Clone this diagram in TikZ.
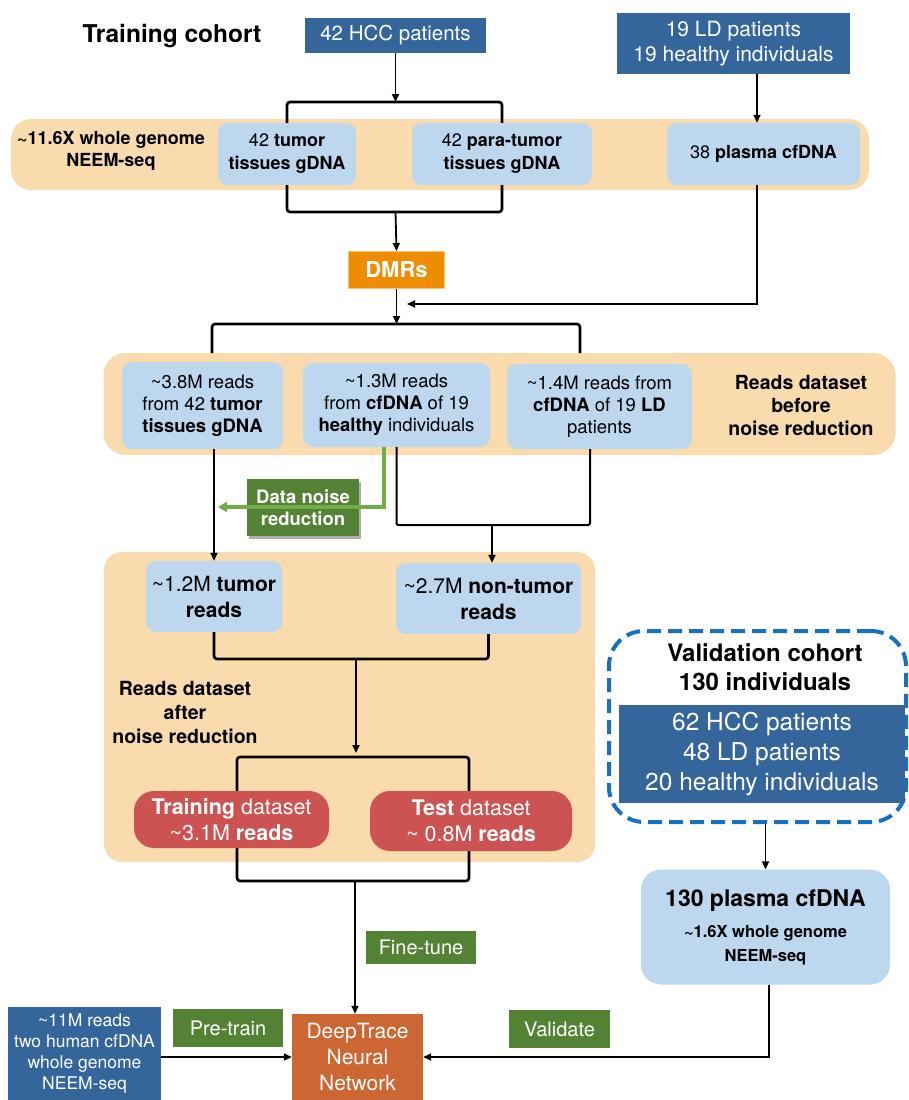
\documentclass[tikz,border=0pt]{standalone}
\usepackage{fontspec}
\setmainfont{TeX Gyre Heros}
\usetikzlibrary{arrows.meta,shadows}
\definecolor{dblue}{RGB}{52,101,155}
\definecolor{lblue}{RGB}{189,215,238}
\definecolor{tanc}{RGB}{249,219,174}
\definecolor{dmrc}{RGB}{240,140,0}
\definecolor{dmrb}{RGB}{248,196,110}
\definecolor{dgreen}{RGB}{84,130,53}
\definecolor{lgreen}{RGB}{112,173,71}
\definecolor{redc}{RGB}{205,82,82}
\definecolor{dtc}{RGB}{204,102,51}
\definecolor{dashb}{RGB}{24,113,192}
\newcommand\fsz[2]{\fontsize{#1}{#2}\selectfont}
\newcommand\tld{\textasciitilde}
\begin{document}
\begin{tikzpicture}[x=1pt,y=-1pt,
  bx/.style={inner sep=0pt,align=center},
  db/.style={bx,fill=dblue,text=white},
  lb/.style={bx,fill=lblue,rounded corners=10pt},
  band/.style={fill=tanc,inner sep=0pt},
  gl/.style={bx,fill=dgreen,text=white},
  rb/.style={bx,fill=redc,text=white,rounded corners=20pt},
  arr/.style={line width=1.8pt,-{Triangle[length=8pt,width=7pt]}},
  brk/.style={line width=2.6pt,rounded corners=3pt},
  conn/.style={line width=2pt,rounded corners=2pt}]
\useasboundingbox (0,0) rectangle (909,1100);
% bands
\node[band,rounded corners=20pt,minimum width=858pt,minimum height=71pt] (band1) at (440,154.5) {};
\node[band,rounded corners=22pt,minimum width=792pt,minimum height=102pt] (band2) at (499.5,404) {};
\node[band,rounded corners=18pt,minimum width=491pt,minimum height=310pt] (band3) at (349.5,707) {};
% top
\node[bx,font=\fsz{24.5}{28}\bfseries] (title) at (172,36) {Training cohort};
\node[db,minimum width=181pt,minimum height=35pt,font=\fsz{20.5}{25}] (hcc) at (395.5,35.5) {42 HCC patients};
\node[db,minimum width=233pt,minimum height=61pt,font=\fsz{21}{25}] (ld) at (733.5,43.5) {19 LD patients\\19 healthy individuals};
\node[bx,font=\fsz{18}{22}\bfseries] (seq1) at (111,151) {\tld 11.6X whole genome\\NEEM-seq};
\node[lb,minimum width=138pt,minimum height=62pt,font=\fsz{18}{23}] (tum) at (287,154) {42 \textbf{tumor}\\\textbf{tissues gDNA}};
\node[lb,minimum width=180pt,minimum height=62pt,font=\fsz{18}{23}] (para) at (502,154) {42 \textbf{para-tumor}\\\textbf{tissues gDNA}};
\node[lb,minimum width=193pt,minimum height=62pt,font=\fsz{18}{23}] (plas) at (763.5,154) {38 \textbf{plasma cfDNA}};
\node[bx,fill=dmrc,draw=dmrb,line width=1pt,text=white,minimum width=96pt,minimum height=37pt,font=\fsz{22}{26}\bfseries] (dmr) at (396.5,270) {DMRs};
\coordinate (b1) at (395.5,102);
\coordinate (b2) at (395.5,212);
\draw[arr] (hcc.south) -- (b1);
\draw[brk] (tum.north) |- (b1) -| (para.north);
\draw[brk] (tum.south) |- (b2) -| (para.south);
\draw[arr] (b2) -- (dmr.north);
\draw[arr] ([xshift=23.5pt]ld.south) -- ([xshift=-6.5pt]plas.north);
\coordinate (m1) at (407,304);
\draw[arr] ([xshift=-6.5pt]plas.south) |- (m1);
\coordinate (b3) at (396.5,324);
\draw[arr] (dmr.south) -- (b3);
\coordinate (l3a) at (212,353);
\coordinate (l3b) at (580,353);
\draw[brk] (l3a) |- (b3) -| (l3b);
% band2
\node[lb,minimum width=161pt,minimum height=87pt,font=\fsz{18.5}{22}] (ra) at (202.5,405.5) {\tld 3.8M reads\\from 42 \textbf{tumor}\\\textbf{tissues gDNA}};
\node[lb,minimum width=187pt,minimum height=84pt,font=\fsz{18.5}{22}] (rbx) at (396.5,405) {\tld 1.3M reads\\from \textbf{cfDNA} of 19\\\textbf{healthy} individuals};
\node[lb,minimum width=185pt,minimum height=85pt,font=\fsz{18.5}{22}] (rc) at (599.5,406.5) {\tld 1.4M reads from\\\textbf{cfDNA} of 19 \textbf{LD}\\patients};
\node[bx,font=\fsz{19.5}{23}\bfseries] (tt2) at (801,405) {Reads dataset\\before\\noise reduction};
% band3
\node[lb,minimum width=136pt,minimum height=71pt,font=\fsz{21}{26}] (r12) at (214,596.5) {\tld 1.2M \textbf{tumor}\\\textbf{reads}};
\node[lb,minimum width=185pt,minimum height=71pt,font=\fsz{21}{26}] (r27) at (488.5,598.5) {\tld 2.7M \textbf{non-tumor}\\\textbf{reads}};
\node[bx,font=\fsz{19.5}{24}\bfseries] (tt3) at (185,712) {Reads dataset\\after\\noise reduction};
\node[rb,minimum width=195pt,minimum height=57pt,font=\fsz{21.5}{26}] (trn) at (231.5,819.5) {\textbf{Training} dataset\\\tld 3.1M \textbf{reads}};
\node[rb,minimum width=202pt,minimum height=60pt,font=\fsz{21.5}{26}] (tst) at (471,821) {\textbf{Test} dataset\\\tld\ 0.8M \textbf{reads}};
% noise reduction
\node[gl,minimum width=112pt,minimum height=57pt,font=\fsz{18.5}{22}\bfseries,drop shadow={shadow xshift=2pt,shadow yshift=-3pt,opacity=0.45,fill=black!70}] (dnr) at (303,507.5) {Data noise\\reduction};
\coordinate (g1) at (384,507);
\coordinate (g2) at (218,507);
\draw[lgreen,line width=3.2pt,-{Triangle[length=9pt,width=10pt]}] ([xshift=-12.5pt]rbx.south) -- (g1) -- (g2);
\draw[arr] (ra.south -| r12.north) -- (r12.north);
\coordinate (m2) at (492,525);
\draw[conn] (rbx.south) |- (m2) -| ([xshift=-9.5pt]rc.south);
\draw[arr] (m2) -- (m2 |- r27.north);
\coordinate (b4) at (356,659);
\coordinate (b5) at (356,757);
\draw[brk] (r12.south) |- (b4) -| (r27.south);
\draw[arr] (b4) -- ([yshift=4pt]b5);
\draw[brk] ([xshift=5.5pt]trn.north) |- (b5) -| ([xshift=-2pt]tst.north);
% bottom
\node[gl,minimum width=110pt,minimum height=33pt,font=\fsz{20}{24}] (ft) at (421,947.5) {Fine-tune};
\node[bx,fill=dtc,text=white,minimum width=131pt,minimum height=86pt,font=\fsz{21}{26}] (dt) at (357.5,1057) {DeepTrace\\Neural\\Network};
\node[db,minimum width=153pt,minimum height=93pt,font=\fsz{17.5}{21}] (pre) at (84.5,1053.5) {\tld 11M reads\\two human cfDNA\\whole genome\\NEEM-seq};
\node[gl,minimum width=110pt,minimum height=38pt,font=\fsz{20}{24}] (pt) at (228,1028) {Pre-train};
\node[gl,minimum width=101pt,minimum height=38pt,font=\fsz{20}{24}] (vl) at (559.5,1029) {Validate};
\coordinate (b6) at (355,881);
\draw[brk] ([xshift=5.5pt]trn.south) |- (b6) -| ([xshift=-2pt]tst.south);
\draw[arr] (b6) -- (b6 |- dt.north);
\draw[arr] (pre.east |- dt.west) -- (dt.west);
% validation
\node[bx,draw=dashb,line width=4pt,dash pattern=on 14pt off 7pt,rounded corners=35pt,minimum width=297pt,minimum height=191pt] (vc) at (757.5,726.5) {};
\node[bx,font=\fsz{24}{29}\bfseries] (vt) at (765,667.5) {Validation cohort\\130 individuals};
\node[db,minimum width=286pt,minimum height=98pt,font=\fsz{24.5}{30}] (vb) at (762,754) {62 HCC patients\\48 LD patients\\20 healthy individuals};
\node[lb,rounded corners=20pt,minimum width=249pt,minimum height=115pt,font=\fsz{16.5}{23.5}\bfseries] (p130) at (765.5,927) {{\fsz{23}{28}\selectfont 130 plasma cfDNA}\\[8pt]\tld 1.6X whole genome\\NEEM-seq};
\draw[arr] (p130.north |- vc.south) -- (p130.north);
\draw[arr] ([xshift=3.5pt]p130.south) |- (dt.east);
\end{tikzpicture}
\end{document}
